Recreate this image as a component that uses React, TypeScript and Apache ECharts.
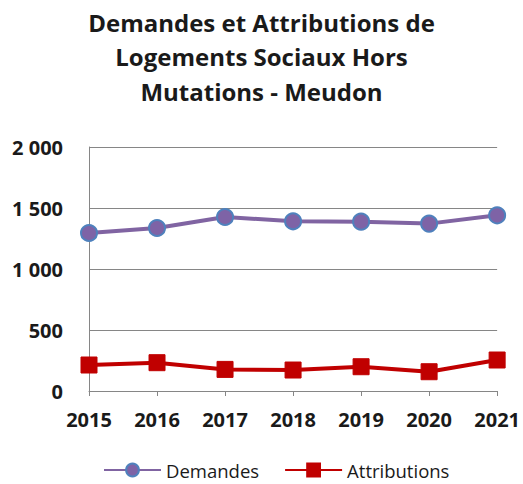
import React, { useEffect, useRef } from "react";
import * as echarts from "echarts";

const years = ["2015", "2016", "2017", "2018", "2019", "2020", "2021"];
const demandes = [1295, 1336, 1426, 1391, 1388, 1372, 1440];
const attributions = [213, 232, 177, 172, 199, 158, 254];
const titleText = "Demandes et Attributions de\nLogements Sociaux Hors\nMutations - Meudon";

const FONT = "'Open Sans', 'DejaVu Sans', sans-serif";

export default function App() {
  const ref = useRef<HTMLDivElement>(null);
  useEffect(() => {
    document.body.style.margin = "0";
    const chart = echarts.init(ref.current!, null, { renderer: "svg" });
    chart.setOption({
      animation: false,
      backgroundColor: "#ffffff",
      title: {
        text: titleText,
        left: "center",
        top: 0,
        textStyle: {
          fontFamily: FONT,
          fontSize: 24,
          fontWeight: "bold",
          color: "#1a1a1a",
          lineHeight: 34.5,
        },
      },
      grid: { left: 89, right: 24, top: 147, bottom: 93 },
      xAxis: {
        type: "category",
        data: years,
        boundaryGap: false,
        axisLine: { lineStyle: { color: "#868686", width: 1 } },
        axisTick: { show: true, alignWithLabel: true, length: 5, lineStyle: { color: "#868686" } },
        axisLabel: {
          fontFamily: FONT,
          fontSize: 20,
          fontWeight: "bold",
          color: "#1a1a1a",
          margin: 18,
        },
      },
      yAxis: {
        type: "value",
        min: 0,
        max: 2000,
        interval: 500,
        axisLine: { show: true, lineStyle: { color: "#868686", width: 1 } },
        axisTick: { show: false },
        splitLine: { lineStyle: { color: "#868686", width: 1 } },
        axisLabel: {
          fontFamily: FONT,
          fontSize: 20,
          fontWeight: "bold",
          color: "#1a1a1a",
          margin: 26,
          formatter: (v: number) => (v >= 1000 ? `${Math.floor(v / 1000)} ${String(v % 1000).padStart(3, "0")}` : String(v)),
        },
      },
      legend: {
        top: 455,
        left: 98,
        padding: 5,
        itemWidth: 57,
        itemHeight: 16,
        itemGap: 25,
        textStyle: { fontFamily: FONT, fontSize: 18.5, color: "#1a1a1a", lineHeight: 20 },
        data: ["Demandes", "Attributions"],
      },
      series: [
        {
          name: "Demandes",
          type: "line",
          data: demandes,
          lineStyle: { color: "#8064A2", width: 4 },
          symbol: "circle",
          symbolSize: 16,
          itemStyle: { color: "#7E63A6", borderColor: "#4F81BD", borderWidth: 2 },
        },
        {
          name: "Attributions",
          type: "line",
          data: attributions,
          lineStyle: { color: "#C00000", width: 4 },
          symbol: "rect",
          symbolSize: 16,
          itemStyle: { color: "#C00000", borderColor: "#C00000", borderWidth: 1 },
        },
      ],
    });
    return () => chart.dispose();
  }, []);
  return <div ref={ref} style={{ width: 523, height: 484 }} />;
}
